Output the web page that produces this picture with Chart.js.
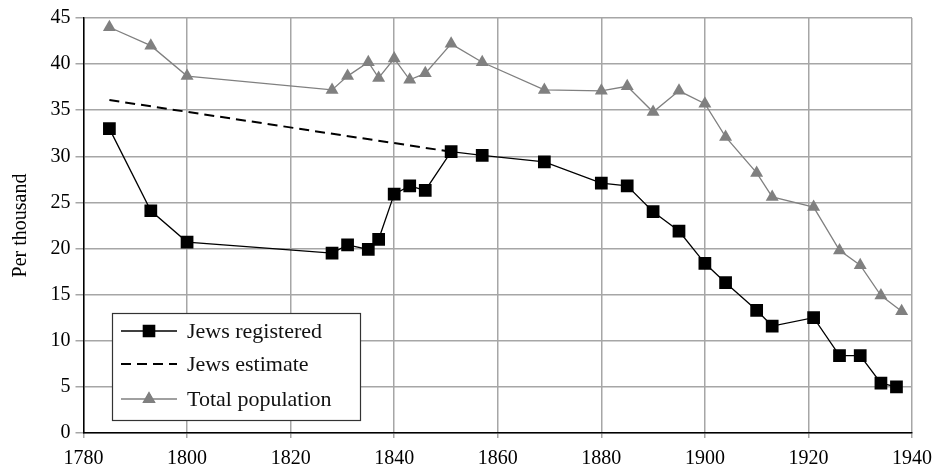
<!DOCTYPE html>
<html>
<head>
<meta charset="utf-8">
<script src="https://cdn.jsdelivr.net/npm/chart.js@4.4.1/dist/chart.umd.min.js"></script>
<style>
  html, body { margin: 0; padding: 0; background: #fff; }
  #wrap { width: 937px; height: 468px; }
</style>
</head>
<body>
<div id="wrap"><canvas id="c" width="937" height="468"></canvas></div>
<script>
// years and rates (per thousand)
const registeredYears = [1785, 1793, 1800, 1828, 1831, 1835, 1837, 1840, 1843, 1846, 1851, 1857, 1869, 1880, 1885, 1890, 1895, 1900, 1904, 1910, 1913, 1921, 1926, 1930, 1934, 1937];
const registeredRates = [33.0, 24.1, 20.7, 19.5, 20.4, 19.9, 21.0, 25.9, 26.8, 26.3, 30.5, 30.1, 29.4, 27.1, 26.8, 24.0, 21.9, 18.4, 16.3, 13.3, 11.6, 12.5, 8.4, 8.4, 5.4, 5.0];

const estimateYears = [1785, 1851];
const estimateRates = [36.1, 30.5];

const totalYears = [1785, 1793, 1800, 1828, 1831, 1835, 1837, 1840, 1843, 1846, 1851, 1857, 1869, 1880, 1885, 1890, 1895, 1900, 1904, 1910, 1913, 1921, 1926, 1930, 1934, 1938];
const totalRates = [44.0, 42.0, 38.7, 37.2, 38.7, 40.2, 38.5, 40.6, 38.3, 39.0, 42.2, 40.2, 37.2, 37.1, 37.6, 34.8, 37.1, 35.7, 32.1, 28.2, 25.6, 24.5, 19.8, 18.2, 14.9, 13.2];

const pairs = (xs, ys) => xs.map((x, i) => ({ x: x, y: ys[i] }));

const serif = "'Liberation Serif', 'DejaVu Serif', serif";

// legend drawn inside the plot, lower left
const boxLegend = {
  id: 'boxLegend',
  afterDraw(chart) {
    const ctx = chart.ctx;
    const left = 112, top = 313, w = 248, h = 107;
    ctx.save();
    ctx.fillStyle = '#fff';
    ctx.fillRect(left, top, w, h);
    ctx.strokeStyle = '#333';
    ctx.lineWidth = 1.2;
    ctx.strokeRect(left + 0.5, top + 0.5, w, h);
    const rows = [331, 364, 399];
    chart.data.datasets.forEach((ds, i) => {
      const y = rows[i];
      ctx.strokeStyle = ds.borderColor;
      ctx.lineWidth = ds.borderWidth;
      ctx.setLineDash(ds.borderDash || []);
      ctx.beginPath();
      ctx.moveTo(121, y);
      ctx.lineTo(177, y);
      ctx.stroke();
      ctx.setLineDash([]);
      if (ds.pointRadius > 0) {
        Chart.helpers.drawPoint(ctx, {
          pointStyle: ds.pointStyle,
          radius: ds.pointRadius - 1,
          borderWidth: 1
        }, 149, y);
        ctx.fillStyle = ds.pointBackgroundColor;
        ctx.fill();
      }
      ctx.fillStyle = '#111';
      ctx.font = '22px ' + serif;
      ctx.textBaseline = 'middle';
      ctx.fillText(ds.label, 187, y + 1);
    });
    ctx.restore();
  }
};

new Chart(document.getElementById('c'), {
  type: 'line',
  data: {
    datasets: [
      {
        label: 'Jews registered',
        data: pairs(registeredYears, registeredRates),
        borderColor: '#000',
        borderWidth: 1.3,
        pointStyle: 'rect',
        pointRadius: 9,
        pointBackgroundColor: '#000',
        pointBorderColor: '#000',
        pointBorderWidth: 0
      },
      {
        label: 'Jews estimate',
        data: pairs(estimateYears, estimateRates),
        borderColor: '#000',
        borderWidth: 2,
        borderDash: [10, 6],
        pointRadius: 0
      },
      {
        label: 'Total population',
        data: pairs(totalYears, totalRates),
        borderColor: '#808080',
        borderWidth: 1.3,
        pointStyle: 'triangle',
        pointRadius: 7.5,
        pointBackgroundColor: '#808080',
        pointBorderColor: '#808080',
        pointBorderWidth: 0
      }
    ]
  },
  options: {
    responsive: false,
    animation: false,
    layout: { padding: { top: 18, right: 25, left: 0, bottom: 0 } },
    plugins: {
      legend: { display: false },
      tooltip: { enabled: false }
    },
    scales: {
      x: {
        type: 'linear',
        min: 1780,
        max: 1940,
        ticks: { stepSize: 20, color: '#000', font: { family: serif, size: 20 }, padding: 9, callback: v => String(v) },
        grid: { color: '#a6a6a6', lineWidth: 1.5, tickLength: 5 },
        border: { color: '#000', width: 1.5 },
        afterFit(scale) {
          scale.height = 35;
          scale.paddingLeft = 0;
          scale.paddingRight = 0;
        }
      },
      y: {
        min: 0,
        max: 45,
        ticks: { stepSize: 5, color: '#000', font: { family: serif, size: 20 }, padding: 5 },
        grid: { color: '#a6a6a6', lineWidth: 1.5, tickLength: 8 },
        border: { color: '#000', width: 1.5 },
        title: { display: true, text: 'Per thousand', color: '#000', font: { family: serif, size: 20 }, padding: { top: 9, bottom: 0 } },
        afterFit(scale) {
          scale.width = 83.5;
          scale.paddingTop = 0;
          scale.paddingBottom = 0;
        }
      }
    }
  },
  plugins: [boxLegend]
});
</script>
</body>
</html>
